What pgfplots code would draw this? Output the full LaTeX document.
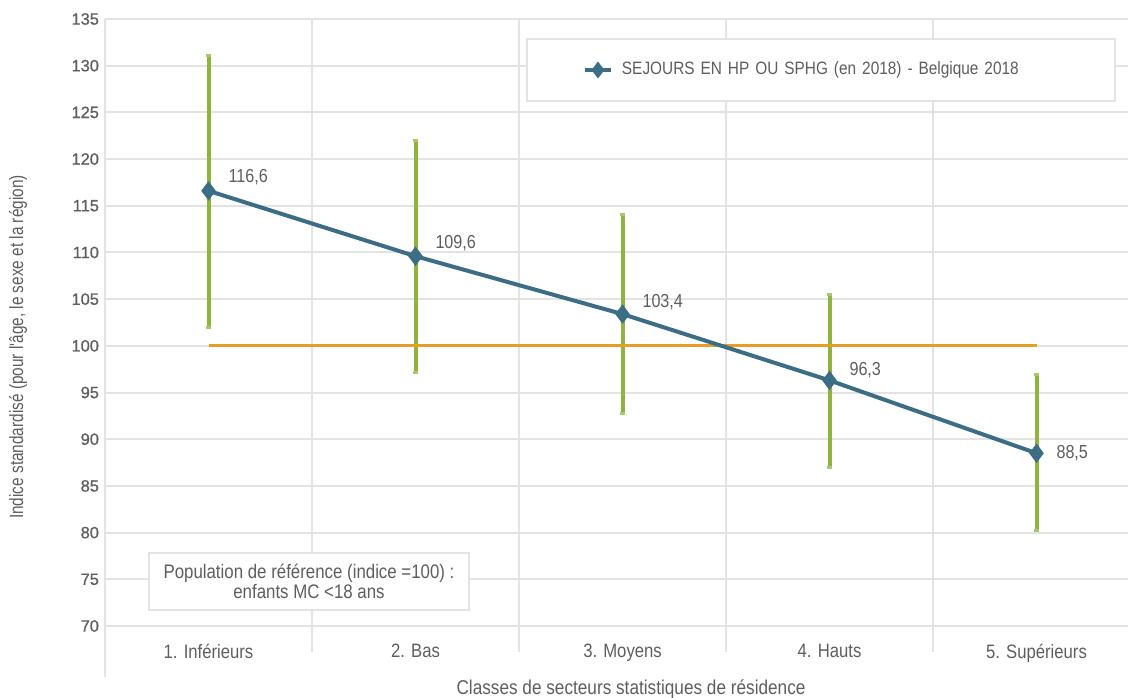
\documentclass[border=0pt]{standalone}
\usepackage{fontspec}
\setmainfont{Liberation Sans}[FakeStretch=0.86]
\newfontfamily\narrowfont{Liberation Sans}[FakeStretch=0.8]
\newfontfamily\tickfont{Liberation Sans}[FakeBold=0.8]
\usepackage{pgfplots}
\usepackage{pgfplotstable}
\pgfplotsset{compat=1.18}

\definecolor{lineblue}{HTML}{3B6D84}
\definecolor{barsgreen}{HTML}{8DB43B}
\definecolor{refline}{HTML}{E89D28}
\definecolor{gridgray}{HTML}{E3E3E3}
\definecolor{textgray}{HTML}{5E5E5E}

% x, index, error above, error below, label lift
\pgfplotstableread{
x y     ep   em   dy
0 116.6 14.5 14.6 7
1 109.6 12.4 12.5 6.5
2 103.4 10.7 10.6 6
3 96.3  9.2  9.3  5
4 88.5  8.4  8.3  0
}\sejours

\begin{document}
\begin{tikzpicture}
\useasboundingbox (0,0) rectangle (564pt,348.5pt);
\begin{axis}[
  at={(52.5pt,35.5pt)}, anchor=south west,
  scale only axis, width=511.5pt, height=303.5pt,
  xmin=-0.5, xmax=4.442, ymin=70, ymax=135,
  clip=false,
  axis line style={draw=none},
  ytick={70,75,...,135},
  ymajorgrids,
  grid style={gridgray, line width=1pt},
  xtick={0,...,4},
  xticklabels={1. Inférieurs, 2. Bas, 3. Moyens, 4. Hauts, 5. Supérieurs},
  minor xtick={0.5,1.5,2.5,3.5},
  xminorgrids,
  minor grid style={gridgray, line width=1pt},
  xtick pos=bottom, ytick pos=left,
  tick align=outside,
  major tick length=0pt,
  minor tick length=13pt,
  minor x tick style={gridgray, line width=1pt},
  /pgf/number format/assume math mode=true,
  yticklabel style={font=\tickfont\fontsize{8.2}{9}\selectfont, text=textgray, xshift=0.5pt},
  xticklabel style={font=\fontsize{9.7}{11}\selectfont, text=textgray, yshift=-5.5pt},
  legend style={
    at={(0.4115,0.9687)}, anchor=north west,
    draw=gridgray, line width=1pt, fill=white,
    inner xsep=28pt, inner ysep=11.25pt,
    font=\fontsize{8.95}{10}\selectfont, text=textgray,
    nodes={inner sep=0pt, text height=6.5pt, text depth=2pt, text width=218.5pt},
    /tikz/every odd column/.append style={column sep=4.5pt},
  },
  legend cell align=left,
]
% confidence intervals
\addplot[draw=none, mark=none, forget plot,
  error bars/.cd, y dir=both, y explicit,
  error bar style={draw=barsgreen, line width=2pt},
  error mark options={draw=barsgreen!75, line width=1.5pt, mark size=1.4pt, rotate=90}]
  table[x=x, y=y, y error plus=ep, y error minus=em] {\sejours};
% reference population
\addplot[refline, line width=1.5pt, forget plot] coordinates {(0,100) (4,100)};
% standardised index
\addplot[lineblue, line width=2pt, mark=diamond*, mark size=3.2pt,
  mark options={fill=lineblue},
  visualization depends on={\thisrow{dy}\as\dy},
  nodes near coords={\pgfmathprintnumber[fixed, fixed zerofill, precision=1, use comma]{\pgfplotspointmeta}},
  every node near coord/.append style={anchor=west, inner sep=0pt, xshift=9pt, yshift=\dy pt,
    font=\fontsize{9.4}{10}\selectfont, text=textgray},
  legend image code/.code={
    \draw[mark repeat=2, mark phase=2, mark size=2.6pt] plot coordinates {(0pt,0pt) (6.5pt,0pt) (13pt,0pt)};}]
  table[x=x, y=y] {\sejours};
\addlegendentry{SEJOURS EN HP OU SPHG (en 2018) - Belgique 2018}
% left axis line running into the label band
\draw[gridgray, line width=1pt] (rel axis cs:0,1) -- ([yshift=-25.5pt]rel axis cs:0,0);
\end{axis}
\node[rotate=90, font=\narrowfont\fontsize{9.6}{11}\selectfont, text=textgray] at (9pt,175pt)
  {Indice standardisé (pour l'âge, le sexe et la région)};
\node[font=\fontsize{10}{11}\selectfont, text=textgray] at (315.5pt,4pt)
  {Classes de secteurs statistiques de résidence};
\node[draw=gridgray, line width=1pt, fill=white, minimum width=160pt, minimum height=28.5pt,
  align=center, font=\fontsize{9.8}{10}\selectfont, text=textgray] at (154.5pt,57.75pt)
  {Population de référence (indice =100) :\\ enfants MC <18 ans};
\end{tikzpicture}
\end{document}
